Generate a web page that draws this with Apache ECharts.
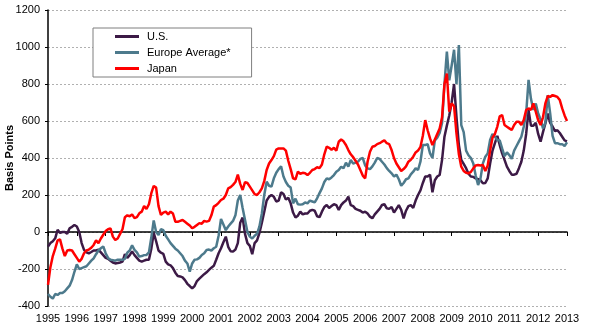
<!DOCTYPE html>
<html>
<head>
<meta charset="utf-8">
<script src="https://cdn.jsdelivr.net/npm/echarts@6/dist/echarts.min.js"></script>
<style>
  html, body { margin: 0; padding: 0; background: #fff; }
  #chart { width: 600px; height: 333px; }
</style>
</head>
<body>
<div id="chart"></div>
<script>
const FONT = 'Liberation Sans, Arial, sans-serif';
const START_YEAR = 1995;
const seriesNames = ['U.S.', 'Europe Average*', 'Japan'];

// Monthly values, Jan 1995 .. Jan 2013 (basis points)
const usSpread = [
  -79, -60, -50, -34, 12, -5, 0, 0, -10, 20, 28, 38,
  30, 0, -60, -97, -110, -115, -108, -100, -100, -95, -110, -125,
  -140, -145, -155, -165, -170, -168, -165, -160, -120, -140, -125, -105,
  -125, -140, -155, -160, -155, -150, -150, -90, -5, -50, -100, -112,
  -118, -160, -175, -180, -195, -220, -238, -240, -245, -260, -280, -292,
  -305, -292, -265, -252, -240, -228, -218, -205, -193, -183, -150, -115,
  -88, -55, -25, -80, -104, -106, -95, -60, 50, 78, -10, -60,
  -75, -120, -60, -45, -5, 50, 110, 170, 190, 200, 190, 165,
  170, 215, 205, 175, 185, 155, 105, 78, 88, 110, 95, 100,
  100, 115, 120, 115, 85, 80, 110, 135, 146, 130, 140, 150,
  145, 119, 145, 160, 170, 191, 145, 140, 125, 120, 115, 105,
  110, 100, 83, 74, 95, 110, 125, 146, 150, 128, 125, 135,
  105, 125, 145, 120, 74, 115, 140, 145, 130, 170, 200, 225,
  265, 300, 300, 310, 215, 280, 300, 308, 390, 515, 575, 630,
  700, 800, 623, 470, 390, 368, 345, 315, 300, 298, 290, 285,
  280, 263, 265, 290, 370, 440, 480, 520, 470, 425, 390, 353,
  330, 310, 310, 315, 345, 380, 440, 530, 659, 575, 575, 590,
  530, 488, 540, 587, 640, 590, 570, 545, 550, 535, 515, 495,
  490
];
const europeSpread = [
  -335, -350, -360, -335, -340, -330, -330, -320, -305, -290, -260, -215,
  -175, -200, -195, -190, -185, -170, -155, -142, -120, -100, -88, -78,
  -115, -140, -150, -152, -155, -150, -150, -150, -145, -112, -100, -72,
  -97, -110, -133, -130, -125, -124, -110, -30, 62, 0, -16, 15,
  10, -20, -40, -60, -75, -90, -100, -115, -130, -155, -170, -215,
  -170, -150, -148, -140, -124, -115, -97, -95, -100, -88, -80, -20,
  70, 40, 10, 30, 45, 60, 90, 170, 200, 130, 65, 0,
  -25, -35, -20, -10, 30, 100, 200, 272, 250, 245, 290, 320,
  340, 355, 300, 270, 250, 240, 155, 180, 150, 148, 150, 160,
  155, 170, 165, 160, 182, 210, 236, 270, 290, 285, 295, 308,
  326, 335, 353, 345, 375, 353, 389, 370, 375, 380, 395, 400,
  360, 344, 340, 355, 375, 400, 395, 380, 365, 345, 330, 317,
  300, 310, 285, 250, 265, 285, 290, 312, 326, 345, 335, 380,
  470, 470, 475, 425, 400, 495, 510, 535, 590, 800, 975, 820,
  900, 985, 800, 1010, 578, 540, 440, 415, 400, 370, 305, 254,
  290, 371, 407, 425, 497, 530, 515, 497, 495, 452, 410, 430,
  416, 395, 440, 465, 490, 515, 569, 640, 822, 720, 660, 695,
  640, 610, 560, 590, 740, 641, 520, 480, 480, 475, 475, 465,
  485
];
const japanSpread = [
  -286, -190, -130, -90, -45, -40, -90, -130, -100, -97, -100, -120,
  -140, -160, -145, -115, -100, -95, -85, -70, -45, -60, -35, -15,
  5, 15, 20, -25, -43, -35, -10, 15, 80, 90, 85, 95,
  75, 80, 101, 110, 140, 125, 150, 210, 249, 240, 140, 92,
  105, 110, 95, 110, 100, 56, 55, 60, 65, 55, 45, 35,
  20, 28, 38, 48, 45, 60, 56, 60, 90, 137, 145, 158,
  173, 180, 200, 236, 243, 255, 270, 310, 260, 227, 270, 265,
  245, 225, 205, 200, 215, 236, 275, 335, 370, 389, 410, 445,
  452, 452, 452, 440, 385, 340, 290, 285, 326, 315, 320, 318,
  308, 320, 335, 340, 350, 345, 365, 420, 461, 455, 445, 455,
  440, 488, 500, 490, 470, 443, 420, 405, 385, 365, 335, 305,
  290, 380, 434, 461, 465, 475, 480, 488, 495, 480, 475, 443,
  400, 370, 350, 330, 340, 355, 380, 390, 407, 430, 440, 460,
  520, 605, 550, 506, 470, 500, 530, 560, 620, 800, 857, 650,
  695, 680, 533, 420, 353, 330, 320, 317, 325, 344, 360, 362,
  360, 362, 330, 360, 440, 510, 530, 570, 625, 632, 578, 569,
  560, 551, 578, 596, 596, 578, 605, 659, 668, 660, 695, 650,
  605, 578, 620, 695, 735, 730, 740, 735, 730, 713, 668, 630,
  600
];
const seriesColors = ['#3c1a46', '#4d7a8c', '#ff0000'];

function toPoints(arr) {
  return arr.map((v, i) => [START_YEAR + i / 12, v]);
}

const xCommon = { type: 'value', min: 1995, max: 2013, interval: 1, splitLine: { show: false } };

const chart = echarts.init(document.getElementById('chart'), null, { renderer: 'canvas' });
chart.setOption({
  animation: false,
  backgroundColor: '#ffffff',
  textStyle: { fontFamily: FONT },
  grid: { left: 48, right: 33, top: 10, bottom: 27, containLabel: false, outerBoundsMode: 'none' },
  legend: {
    data: seriesNames,
    orient: 'vertical',
    left: 93,
    top: 28,
    padding: [3, 21, 3, 22],
    itemWidth: 24,
    itemHeight: 3,
    itemGap: 5,
    icon: 'rect',
    borderColor: '#7f7f7f',
    borderWidth: 1,
    backgroundColor: '#ffffff',
    selectedMode: false,
    textStyle: { fontSize: 11, color: '#000', fontFamily: FONT, padding: [0, 0, 0, 3] }
  },
  xAxis: [
    Object.assign({}, xCommon, {
      position: 'bottom',
      axisLine: { show: false, onZero: false },
      axisTick: { show: false },
      axisLabel: { show: true, margin: 7, fontSize: 11, color: '#000', fontFamily: FONT, formatter: v => String(v) }
    }),
    Object.assign({}, xCommon, {
      position: 'bottom',
      axisLine: { show: true, onZero: true, lineStyle: { color: '#000', width: 1.5 } },
      axisTick: { show: true, length: 4, lineStyle: { color: '#000', width: 1 } },
      axisLabel: { show: false }
    })
  ],
  yAxis: {
    type: 'value',
    min: -400,
    max: 1200,
    interval: 200,
    name: 'Basis Points',
    nameLocation: 'middle',
    nameGap: 33,
    nameMoveOverlap: false,
    nameTextStyle: { fontWeight: 'bold', fontSize: 11, color: '#000', fontFamily: FONT },
    axisLine: { show: true, onZero: false, lineStyle: { color: '#000', width: 1.5 } },
    axisTick: { show: true, length: 3, lineStyle: { color: '#000', width: 1 } },
    axisLabel: { margin: 8, fontSize: 11, color: '#000', fontFamily: FONT, formatter: v => String(v) },
    splitLine: { show: true, lineStyle: { color: '#b0b0b0', width: 1, type: [2, 2] } }
  },
  series: [
    { name: seriesNames[0], type: 'line', xAxisIndex: 0, data: toPoints(usSpread), symbol: 'none', lineStyle: { width: 2.5, color: seriesColors[0] }, itemStyle: { color: seriesColors[0] } },
    { name: seriesNames[1], type: 'line', xAxisIndex: 0, data: toPoints(europeSpread), symbol: 'none', lineStyle: { width: 2.5, color: seriesColors[1] }, itemStyle: { color: seriesColors[1] } },
    { name: seriesNames[2], type: 'line', xAxisIndex: 0, data: toPoints(japanSpread), symbol: 'none', lineStyle: { width: 2.5, color: seriesColors[2] }, itemStyle: { color: seriesColors[2] } }
  ]
});
</script>
</body>
</html>
